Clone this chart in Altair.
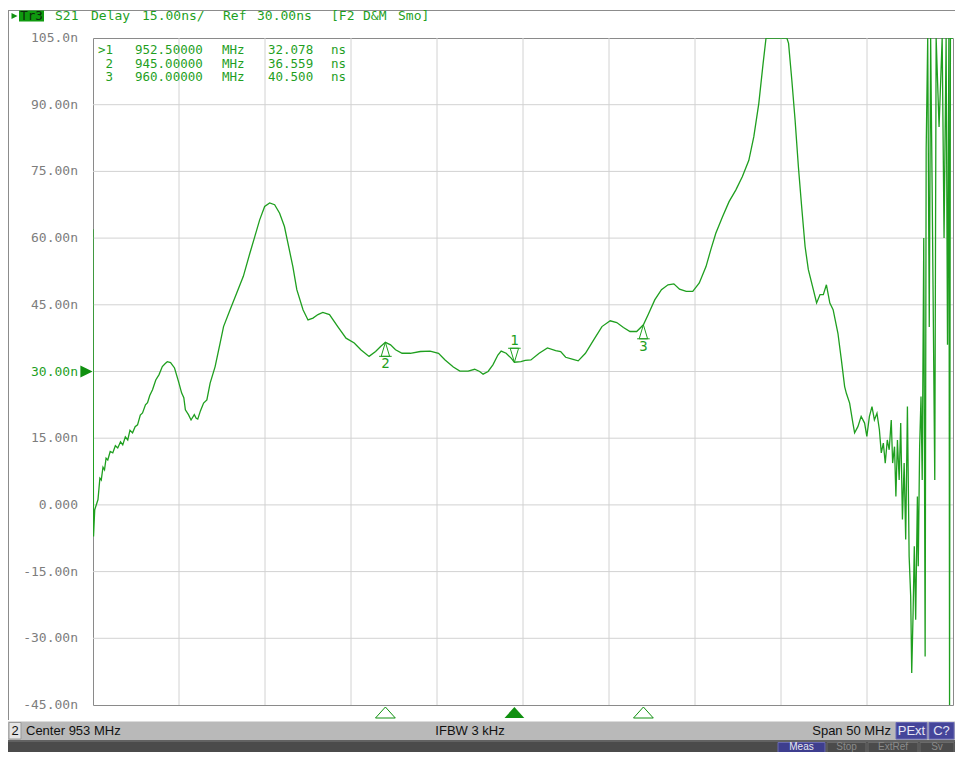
import altair as alt
import pandas as pd

# ---------------- data ----------------
freq_mhz = [
    928.00, 928.01, 928.03, 928.10, 928.29, 928.40, 928.48, 928.58, 928.67, 928.76,
    928.86, 929.00, 929.15, 929.30, 929.44, 929.60, 929.73, 929.88, 930.02, 930.15,
    930.30, 930.45, 930.59, 930.75, 930.88, 931.05, 931.17, 931.30, 931.46, 931.65,
    931.84, 932.03, 932.20, 932.32, 932.51, 932.74, 932.99, 933.15, 933.28, 933.37,
    933.55, 933.70, 933.89, 934.00, 934.09, 934.25, 934.43, 934.62, 934.81, 935.10,
    935.39, 935.59, 935.97, 936.35, 936.74, 937.12, 937.41, 937.69, 937.98, 938.27,
    938.56, 938.85, 939.13, 939.33, 939.62, 939.85, 940.21, 940.50, 940.79, 941.08,
    941.36, 941.75, 942.23, 942.71, 943.19, 943.57, 944.05, 944.43, 944.72, 945.00,
    945.30, 945.59, 945.97, 946.45, 947.03, 947.60, 948.09, 948.47, 948.95, 949.33,
    949.81, 950.19, 950.48, 950.68, 950.97, 951.25, 951.54, 951.73, 952.02, 952.31,
    952.50, 952.88, 953.13, 953.46, 953.94, 954.42, 954.90, 955.19, 955.48, 955.86,
    956.21, 956.63, 957.11, 957.59, 958.07, 958.45, 958.84, 959.22, 959.61, 960.00,
    960.28, 960.66, 961.05, 961.43, 961.77, 962.10, 962.49, 962.87, 963.25, 963.64,
    963.92, 964.21, 964.60, 964.98, 965.37, 965.75, 966.13, 966.42, 966.71, 966.96,
    967.13, 968.34, 968.44, 968.63, 968.82, 969.01, 969.20, 969.40, 969.59, 969.88,
    970.07, 970.27, 970.46, 970.64, 970.84, 971.03, 971.31, 971.51, 971.70, 971.80,
    971.99, 972.18, 972.28, 972.47, 972.66, 972.86, 972.99, 973.14, 973.29, 973.43,
    973.58, 973.72, 973.83, 973.95, 974.06, 974.18, 974.29, 974.41, 974.49, 974.60,
    974.68, 974.77, 974.87, 974.96, 975.06, 975.16, 975.25, 975.35, 975.45, 975.54,
    975.60, 975.68, 975.75, 975.83, 975.93, 975.98, 976.06, 976.14, 976.21, 976.30,
    976.38, 976.44, 976.53, 976.62, 976.70, 976.79, 976.94, 977.02, 977.19, 977.37,
    977.48, 977.60, 977.68, 977.76, 977.80, 977.85, 978.00,
]
delay_ns = [
    62.0, 23.7, -7.1, -1.1, 1.2, 6.0, 5.6, 8.5, 7.9, 10.5,
    10.1, 12.0, 11.7, 13.3, 12.8, 14.2, 13.5, 15.3, 14.6, 16.8,
    16.2, 17.6, 18.0, 20.2, 20.7, 22.5, 23.0, 24.6, 25.9, 28.1,
    29.3, 31.1, 31.8, 32.2, 32.0, 30.8, 27.5, 25.2, 24.1, 21.4,
    20.3, 19.1, 20.3, 19.5, 19.3, 21.2, 22.9, 23.6, 27.4, 31.1,
    36.4, 40.1, 43.9, 47.6, 51.4, 56.6, 60.4, 64.1, 67.1, 67.9,
    67.5, 65.6, 62.6, 58.9, 53.6, 48.4, 43.9, 41.6, 42.0, 42.8,
    43.3, 42.8, 40.1, 37.5, 36.4, 34.9, 33.4, 34.5, 35.6, 36.56,
    36.0, 34.9, 34.1, 34.1, 34.5, 34.6, 34.1, 32.6, 31.0, 30.1,
    30.1, 30.5, 30.0, 29.4, 30.0, 31.5, 33.7, 34.6, 34.1, 33.0,
    32.08, 32.2, 32.5, 32.6, 34.1, 35.3, 34.7, 34.5, 33.2, 32.8,
    32.4, 34.1, 37.1, 40.1, 41.4, 41.0, 39.9, 39.0, 39.0, 40.5,
    42.8, 46.1, 48.4, 49.5, 49.7, 48.5, 48.0, 48.0, 49.9, 53.6,
    57.4, 61.1, 64.8, 68.2, 70.8, 73.8, 77.5, 82.8, 90.3, 99.3,
    105.0, 105.0, 103.8, 95.5, 86.5, 76.1, 67.1, 58.1, 52.9, 48.4,
    45.4, 47.3, 47.3, 49.5, 45.4, 43.9, 38.6, 32.6, 26.6, 25.1,
    22.9, 18.4, 16.2, 17.6, 19.9, 18.4, 15.4, 19.9, 22.1, 19.1,
    20.6, 16.9, 11.7, 13.9, 9.4, 14.6, 12.4, 19.1, 9.4, 13.1,
    1.9, 14.6, 5.6, 18.4, -3.3, 9.4, -7.8, 22.1, -11.6, -20.6,
    -37.8, -24.3, -9.3, -25.8, 1.9, -13.8, 13.1, 24.4, 5.6, 60.0,
    -34.1, 80.0, 105.0, 40.0, 105.0, 70.0, 5.6, 105.0, 85.0, 105.0,
    60.0, 105.0, 36.0, 105.0, -45.0, 105.0, 105.0,
]

marker_ids = ["1", "2", "3"]
marker_freq = [952.5, 945.0, 960.0]
marker_delay = [32.078, 36.559, 40.500]
marker_active = [True, False, False]

y_ticks = [105, 90, 75, 60, 45, 30, 15, 0, -15, -30, -45]
y_tick_labels = ["105.0n", "90.00n", "75.00n", "60.00n", "45.00n", "30.00n",
                 "15.00n", "0.000", "-15.00n", "-30.00n", "-45.00n"]
x_grid = [933, 938, 943, 948, 953, 958, 963, 968, 973]
ref_level = [30]

header_tr = "Tr3"
header_text = "S21 Delay 15.00ns/ Ref 30.00ns [F2 D&M Smo]"
status_ch = "2"
status_left = "Center 953 MHz"
status_mid = "IFBW 3 kHz"
status_right = "Span 50 MHz"
status_boxes = ["PExt", "C?"]
soft_keys = ["Meas", "Stop", "ExtRef", "Sv"]

# ---------------- layout helpers ----------------
W, H = 860, 667
OX, OY = 93, 38  # page position of plot origin
GREEN = "#1f9f1f"
MONO = "DejaVu Sans Mono"
SANS = "Liberation Sans Narrow, Liberation Sans, Arial"


def px(x):
    return x - OX


def py(y):
    return y - OY


one = pd.DataFrame({"k": [0]})
xs = alt.Scale(domain=[928, 978], nice=False, zero=False)
ys = alt.Scale(domain=[-45, 105], nice=False, zero=False)


def box(x0, y0, x1, y1, fill, stroke=None, sw=1):
    kw = dict(fill=fill)
    if stroke is not None:
        kw.update(stroke=stroke, strokeWidth=sw)
    else:
        kw.update(strokeWidth=0)
    return alt.Chart(one).mark_rect(**kw).encode(
        x=alt.value(px(x0)), x2=alt.value(px(x1)),
        y=alt.value(py(y0)), y2=alt.value(py(y1)))


def label(text, x, y, size, color, font=MONO, align="left"):
    return alt.Chart(one).mark_text(
        text=text, align=align, baseline="middle", fontSize=size,
        color=color, font=font).encode(x=alt.value(px(x)), y=alt.value(py(y)))


def hline(x0, x1, y, color, sw=1):
    return alt.Chart(one).mark_rule(color=color, strokeWidth=sw).encode(
        x=alt.value(px(x0)), x2=alt.value(px(x1)), y=alt.value(py(y)))


def vline(x, y0, y1, color, sw=1):
    return alt.Chart(one).mark_rule(color=color, strokeWidth=sw).encode(
        x=alt.value(px(x)), y=alt.value(py(y0)), y2=alt.value(py(y1)))


layers = []

# frame
layers.append(hline(8, 963, 10.5, "#8c8c8c"))
layers.append(vline(8.5, 10, 720, "#8c8c8c"))

# grid
gx = pd.DataFrame({"f": x_grid})
layers.append(alt.Chart(gx).mark_rule(color="#d2d2d2", strokeWidth=1).encode(
    x=alt.X("f:Q", scale=xs, axis=None), y=alt.value(0), y2=alt.value(H)))
gy = pd.DataFrame({"v": y_ticks[1:-1]})
layers.append(alt.Chart(gy).mark_rule(color="#d2d2d2", strokeWidth=1).encode(
    y=alt.Y("v:Q", scale=ys, axis=None), x=alt.value(0), x2=alt.value(W)))

# trace
trace = pd.DataFrame({"f": freq_mhz, "d": delay_ns})
layers.append(alt.Chart(trace).mark_line(color=GREEN, strokeWidth=1.3, clip=True).encode(
    x=alt.X("f:Q", scale=xs, axis=None),
    y=alt.Y("d:Q", scale=ys, axis=None),
    order="f:Q"))

# y tick labels
yl = pd.DataFrame({"v": y_ticks, "t": y_tick_labels})
layers.append(alt.Chart(yl).mark_text(align="right", baseline="middle", fontSize=13, font=MONO).encode(
    x=alt.value(px(78)),
    y=alt.Y("v:Q", scale=ys, axis=None),
    text="t:N",
    color=alt.condition("datum.v == 30", alt.value(GREEN), alt.value("#7d7d7d"))))

# reference level arrow
layers.append(alt.Chart(pd.DataFrame({"v": ref_level})).mark_point(
    shape="M-1,-1L1,0L-1,1Z", filled=True, color="#109010", size=150, opacity=1).encode(
    x=alt.value(px(86.5)), y=alt.Y("v:Q", scale=ys, axis=None)))

# markers on the trace
mk = pd.DataFrame({"id": marker_ids, "f": marker_freq, "d": marker_delay, "active": marker_active})
up_shape = "M0,-1L-0.6,1L0.6,1Z M-0.9,1L0.9,1"
down_shape = "M0,1L-0.6,-1L0.6,-1Z M-0.9,-1L0.9,-1"
base = alt.Chart(mk)
enc = dict(x=alt.X("f:Q", scale=xs, axis=None), y=alt.Y("d:Q", scale=ys, axis=None))
layers.append(base.transform_filter("!datum.active").mark_point(
    shape=up_shape, filled=False, color=GREEN, size=196, strokeWidth=1, yOffset=7, opacity=1).encode(**enc))
layers.append(base.transform_filter("!datum.active").mark_text(
    dy=22, fontSize=14, font=MONO, color=GREEN).encode(text="id:N", **enc))
layers.append(base.transform_filter("datum.active").mark_point(
    shape=down_shape, filled=False, color=GREEN, size=196, strokeWidth=1, yOffset=-7, opacity=1).encode(**enc))
layers.append(base.transform_filter("datum.active").mark_text(
    dy=-21, fontSize=14, font=MONO, color=GREEN).encode(text="id:N", **enc))

# marker triangles below the plot
bot_shape = "M0,-1L1.8,1L-1.8,1Z"
layers.append(base.transform_filter("!datum.active").mark_point(
    shape=bot_shape, filled=False, color="#109010", size=121, strokeWidth=1, opacity=1).encode(
    x=alt.X("f:Q", scale=xs, axis=None), y=alt.value(py(712.5))))
layers.append(base.transform_filter("datum.active").mark_point(
    shape=bot_shape, filled=True, color="#109010", size=121, opacity=1).encode(
    x=alt.X("f:Q", scale=xs, axis=None), y=alt.value(py(712.5))))

# marker table (columns placed as on the instrument screen)
TS = 12.5
for i, (mid, f, d, a) in enumerate(zip(marker_ids, marker_freq, marker_delay, marker_active)):
    yy = 50 + 13.5 * i
    layers.append(label((">" if a else "") + mid, 113, yy, TS, GREEN, align="right"))
    layers.append(label(f"{f:.5f}", 135, yy, TS, GREEN))
    layers.append(label("MHz", 222, yy, TS, GREEN))
    layers.append(label(f"{d:.3f}", 268, yy, TS, GREEN))
    layers.append(label("ns", 331, yy, TS, GREEN))

# header
layers.append(alt.Chart(one).mark_point(shape="M-1,-1L1,0L-1,1Z", filled=True, color="#109010",
                                        size=36, opacity=1).encode(x=alt.value(px(14.5)), y=alt.value(py(16))))
layers.append(box(19, 10.5, 44, 21.5, "#0f9a0f"))
layers.append(label(header_tr, 31.5, 16, 12.5, "#0b2a0b", align="center"))
header_x = [55, 91, 142, 223, 257, 331, 363, 398]
for word, hx in zip(header_text.split(" "), header_x):
    layers.append(label(word, hx, 16, 13, GREEN))

# status bar
layers.append(box(8, 721.5, 963, 740, "#b9b9b9"))
layers.append(box(9, 722.5, 21, 739, "#e4e4e4", "#9a9a9a"))
layers.append(label(status_ch, 15, 731, 13, "#111111", SANS, "center"))
layers.append(label(status_left, 26, 731, 13, "#111111", SANS))
layers.append(label(status_mid, 470, 731, 13, "#111111", SANS, "center"))
layers.append(label(status_right, 891, 731, 13, "#111111", SANS, "right"))
for (x0, x1), t in zip([(896, 927), (929, 954)], status_boxes):
    layers.append(box(x0, 722.5, x1, 739, "#45459a", "#6a6ab5"))
    layers.append(label(t, (x0 + x1) / 2, 731, 13, "#e6e6f5", SANS, "center"))

# soft-key bar
layers.append(hline(8, 963, 741, "#2e2e2e", 1.5))
layers.append(box(8, 742, 963, 766, "#4b4b4b"))
key_pos = [(778, 825), (827, 866), (868, 918), (920, 954)]
for j, ((x0, x1), t) in enumerate(zip(key_pos, soft_keys)):
    fill = "#3e3e8e" if j == 0 else "#4b4b4b"
    edge = "#6a6ab0" if j == 0 else "#6a6a6a"
    tcol = "#e8e8f0" if j == 0 else "#8a8a8a"
    layers.append(box(x0, 742.5, x1, 766, fill, edge))
    layers.append(label(t, (x0 + x1) / 2, 746.5, 10, tcol, SANS, "center"))

chart = alt.layer(*layers).properties(
    width=W, height=H,
    autosize=alt.AutoSizeParams(type="none"),
    padding={"left": 85, "top": 30, "right": 2, "bottom": 47},
).configure_view(stroke="#8a8a8a", strokeWidth=1)

chart.save("out.html", embed_options={"renderer": "svg", "actions": False})
